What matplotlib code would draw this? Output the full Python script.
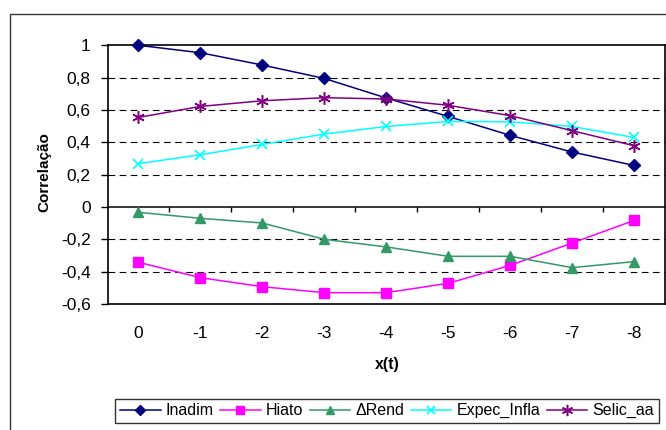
import numpy as np
import matplotlib
matplotlib.use("Agg")
import matplotlib.pyplot as plt
from matplotlib.patches import Rectangle

plt.rcParams['font.family'] = ['Liberation Sans', 'DejaVu Sans']

# Defasagens (eixo x) e correlações de cada série
lags = ["0", "-1", "-2", "-3", "-4", "-5", "-6", "-7", "-8"]
inadim = [1.00, 0.954, 0.878, 0.795, 0.674, 0.560, 0.443, 0.340, 0.257]
hiato = [-0.342, -0.437, -0.493, -0.530, -0.530, -0.472, -0.361, -0.223, -0.083]
d_rend = [-0.033, -0.070, -0.099, -0.200, -0.247, -0.305, -0.305, -0.375, -0.338]
expec_infla = [0.268, 0.323, 0.387, 0.451, 0.498, 0.529, 0.527, 0.498, 0.430]
selic_aa = [0.554, 0.622, 0.657, 0.676, 0.668, 0.629, 0.565, 0.472, 0.379]

series_names = ["Inadim", "Hiato", "\u0394Rend", "Expec_Infla", "Selic_aa"]
yticks = [-0.6, -0.4, -0.2, 0, 0.2, 0.4, 0.6, 0.8, 1]
ytick_labels = ["-0,6", "-0,4", "-0,2", "0", "0,2", "0,4", "0,6", "0,8", "1"]

W, H = 666, 430
fig = plt.figure(figsize=(W / 100, H / 100), dpi=100)

# Moldura externa do gráfico
fig.patches.append(Rectangle((10 / W, -0.1), 1.2, 1 - 14 / H + 0.1,
                             transform=fig.transFigure, fill=False,
                             edgecolor="#333333", linewidth=1.0))

ax = fig.add_axes([107.5 / W, 1 - 304 / H, (665 - 107.5) / W, (304 - 45.3) / H])

x = np.arange(len(lags))
styles = [
    (inadim, "#000080", dict(marker="D", markersize=6)),
    (hiato, "#FF00FF", dict(marker="s", markersize=6.5)),
    (d_rend, "#339966", dict(marker="^", markersize=7)),
    (expec_infla, "#00FFFF", dict(marker="x", markersize=7, markeredgewidth=1.2)),
    (selic_aa, "#800080", dict(marker=(6, 2, 0), markersize=9, markeredgewidth=1.1)),
]
handles = []
for (vals, color, mk), name in zip(styles, series_names):
    h, = ax.plot(x, vals, color=color, linewidth=1.1, markerfacecolor=color,
                 markeredgecolor=color, label=name, clip_on=False, zorder=3, **mk)
    handles.append(h)

ax.set_xlim(-0.5, len(lags) - 0.5)
ax.set_ylim(-0.6, 1.0)

# Linhas de grade tracejadas
for yv in yticks:
    if yv not in (-0.6, 0, 1):
        ax.axhline(yv, color="black", linewidth=0.8, linestyle=(0, (6, 4)), zorder=1)

# Linha do zero e marcas do eixo de categorias
ax.axhline(0, color="black", linewidth=1.1, zorder=2)
y0 = (0 - (-0.6)) / 1.6
ax.vlines(np.arange(0.5, len(lags) - 1), y0 - 0.02, y0,
          transform=ax.get_xaxis_transform(), color="black", linewidth=1.0, zorder=2)

ax.set_yticks(yticks)
ax.set_yticklabels(ytick_labels, fontsize=12.5)
ax.tick_params(axis="y", direction="out", length=5, width=1, pad=7)
ax.set_xticks(x)
ax.set_xticklabels(lags, fontsize=12.5)
ax.tick_params(axis="x", length=0, pad=16)

for s in ax.spines.values():
    s.set_linewidth(1.2)
    s.set_color("black")

# Títulos dos eixos
fig.text(44 / W, 1 - 172 / H, "Correlação", fontsize=11, fontweight="bold",
         rotation=90, ha="center", va="center")
fig.text(387 / W, 1 - 365 / H, "x(t)", fontsize=11.5, fontweight="bold",
         ha="center", va="center")

leg = fig.legend(handles=handles, labels=series_names, loc="upper left",
                 bbox_to_anchor=(115 / W, 1 - 398.5 / H), ncol=5, fontsize=11.5,
                 frameon=True, fancybox=False, edgecolor="black",
                 handlelength=2.55, handletextpad=0.3, columnspacing=0.42,
                 borderpad=0.3, borderaxespad=0, markerscale=0.9)
leg.get_frame().set_linewidth(1.0)

fig.savefig("out.png", dpi=100)
